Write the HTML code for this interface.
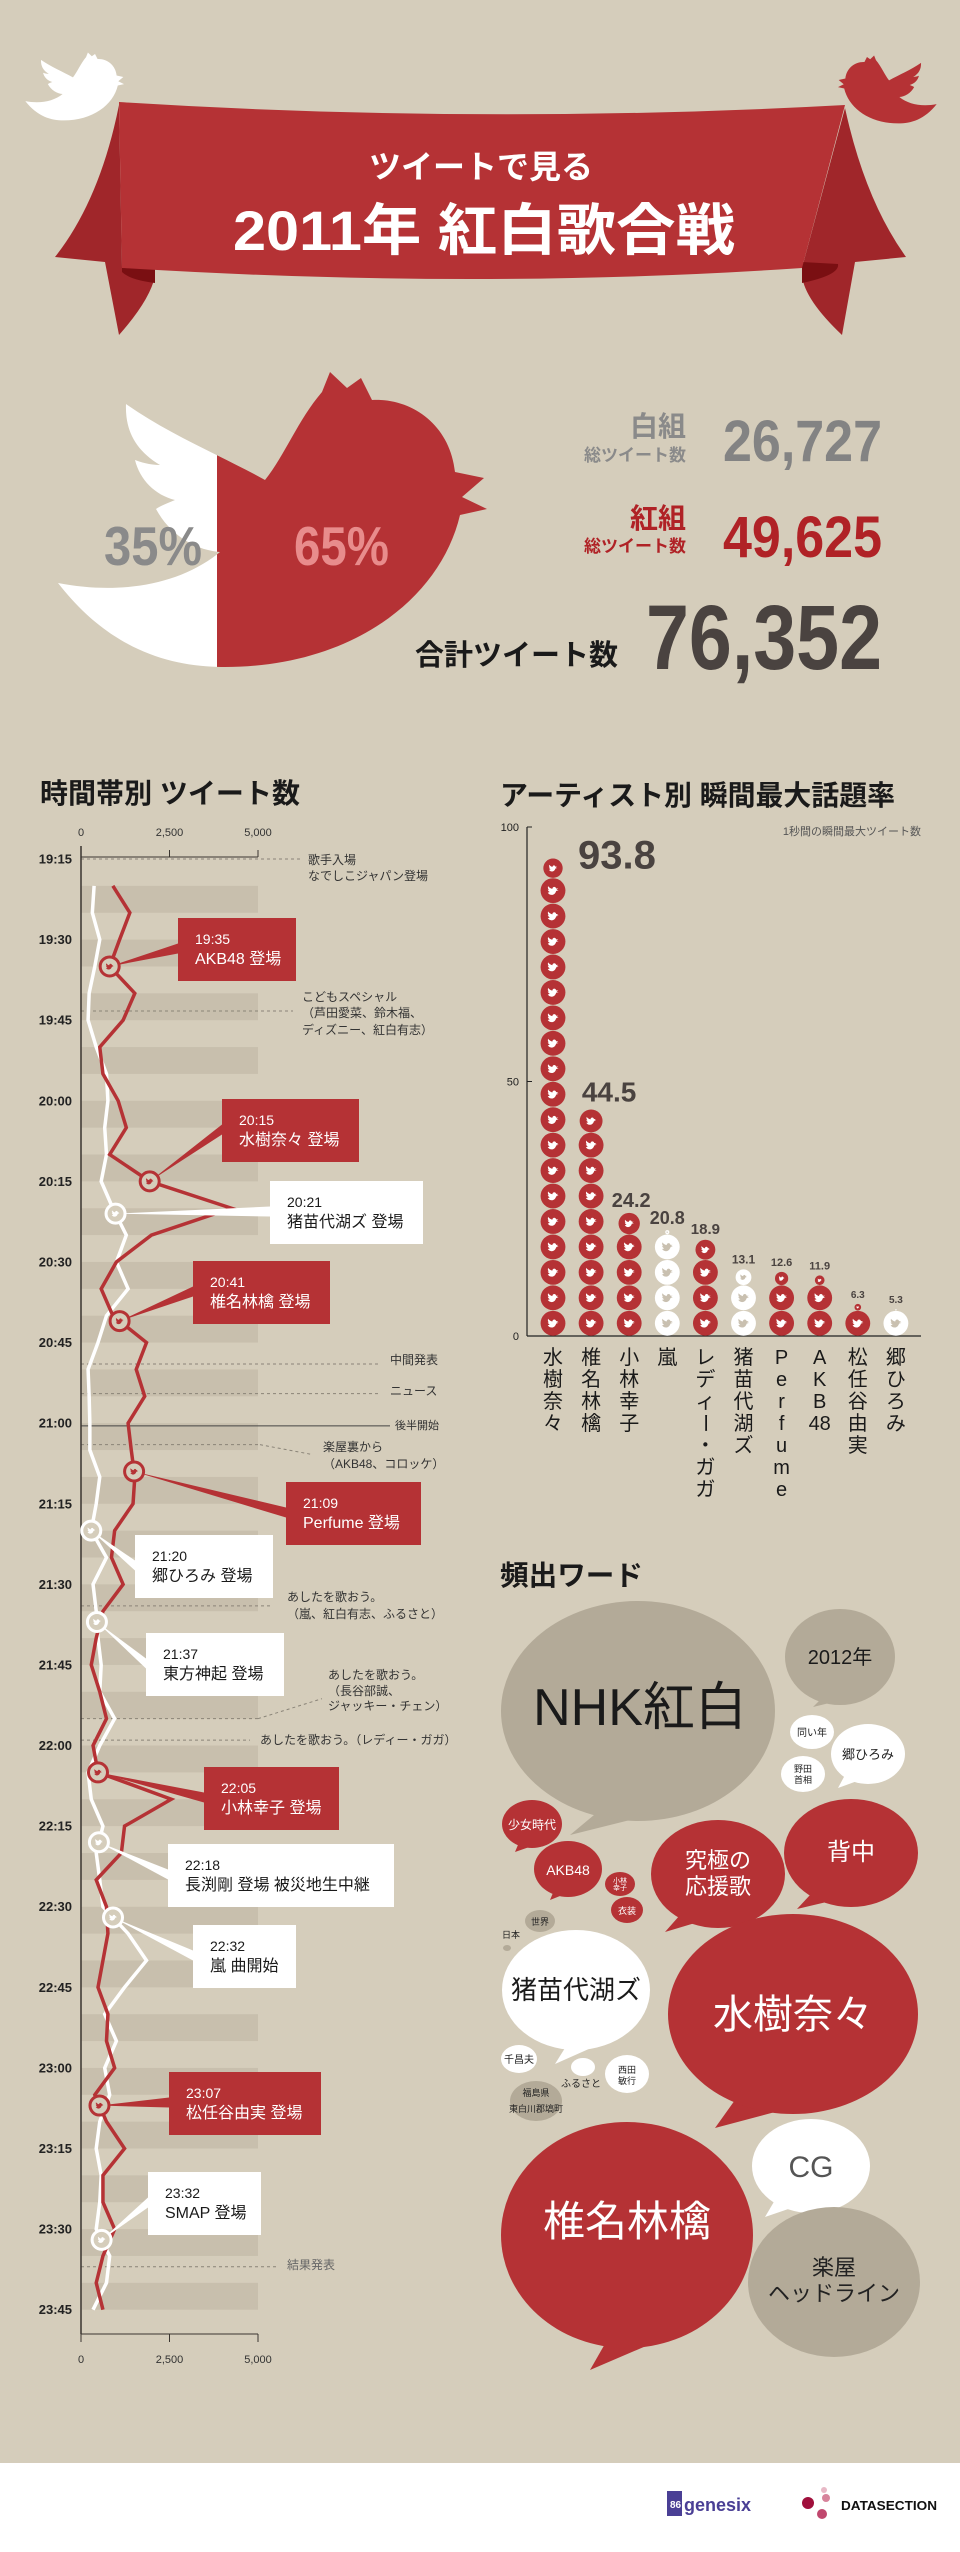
<!DOCTYPE html>
<html><head><meta charset="utf-8"><style>
html,body{margin:0;padding:0;background:#d5cdbb;}
svg{display:block;font-family:"Liberation Sans","Noto Sans CJK JP",sans-serif;}
</style></head><body>
<svg id="root" width="960" height="2552" viewBox="0 0 960 2552" xmlns="http://www.w3.org/2000/svg">
<defs>
  <path id="bird" d="M-0.75,0.3 C-0.45,0.75 0.25,0.75 0.45,0.05 L0.8,-0.05 L0.5,-0.12 L0.75,-0.3 L0.45,-0.3 C0.35,-0.65 -0.05,-0.6 -0.1,-0.25 C-0.35,-0.3 -0.55,-0.45 -0.7,-0.65 C-0.8,-0.35 -0.65,-0.15 -0.55,-0.1 C-0.65,-0.1 -0.7,-0.15 -0.75,-0.15 C-0.7,0.05 -0.55,0.15 -0.45,0.2 C-0.55,0.25 -0.65,0.28 -0.75,0.3 Z"/>
  <path id="bigbird" d="M58,583 C110,650 170,667 225,667 C350,667 440,600 460,515 L487,509 L462,497 L484,478 L455,472 C450,425 412,398 372,400 L361,378 L347,388 L330,372 L322,392 C298,420 285,455 265,480 C220,455 170,435 126,404 C125,430 135,450 160,465 C150,465 140,462 135,460 C140,480 155,495 175,500 C168,503 160,506 156,509 C170,535 195,550 220,552 C180,585 120,595 58,583 Z"/>
  <clipPath id="clipL"><rect x="0" y="300" width="217" height="400"/></clipPath>
  <clipPath id="clipR"><rect x="217" y="300" width="400" height="400"/></clipPath>
</defs>
<rect x="0" y="0" width="960" height="2463" fill="#d5cdbb"/>
<rect x="0" y="2463" width="960" height="89" fill="#ffffff"/>

<!-- header ribbon -->
<g>
  <path d="M119,105 Q100,200 55,257 L105,262 L119,335 Q150,300 155,276 L122,268 Z" fill="#a0262a"/>
  <path d="M845,108 Q865,200 906,257 L855,262 L842,335 Q805,300 802,276 L802,268 Z" fill="#a0262a"/>
  <path d="M122,262 L155,266 L155,283 Q130,280 122,272 Z" fill="#7a0f12"/>
  <path d="M802,262 L838,264 Q840,275 802,283 Z" fill="#7a0f12"/>
  <path d="M119,102 Q480,125 845,105 L802,268 Q480,290 122,268 Z" fill="#b53235"/>
  <text x="481" y="178" text-anchor="middle" font-size="32" font-weight="bold" fill="#ffffff">ツイートで見る</text>
  <text x="484" y="250" text-anchor="middle" font-size="56" font-weight="bold" fill="#ffffff" textLength="502" lengthAdjust="spacingAndGlyphs">2011年 紅白歌合戦</text>
</g>
<g transform="translate(12,-33) scale(0.23)"><use href="#bigbird" fill="#ffffff"/></g>
<g transform="translate(950,-30) scale(-0.23,0.23)"><use href="#bigbird" fill="#b53235"/></g>

<!-- big bird -->
<g>
  <use href="#bigbird" fill="#ffffff" clip-path="url(#clipL)"/>
  <use href="#bigbird" fill="#b53235" clip-path="url(#clipR)"/>
  <text x="104" y="565" font-size="55" font-weight="bold" fill="#8a8a8a" textLength="98" lengthAdjust="spacingAndGlyphs">35%</text>
  <text x="294" y="565" font-size="55" font-weight="bold" fill="#e88c8c" textLength="95" lengthAdjust="spacingAndGlyphs">65%</text>
</g>
<g>
  <text x="686" y="436" text-anchor="end" font-size="28" font-weight="bold" fill="#8a8a8a">白組</text>
  <text x="686" y="461" text-anchor="end" font-size="17" font-weight="bold" fill="#8a8a8a">総ツイート数</text>
  <text x="723" y="461" font-size="58" font-weight="bold" fill="#838383" textLength="159" lengthAdjust="spacingAndGlyphs">26,727</text>
  <text x="686" y="528" text-anchor="end" font-size="28" font-weight="bold" fill="#b02226">紅組</text>
  <text x="686" y="552" text-anchor="end" font-size="17" font-weight="bold" fill="#b02226">総ツイート数</text>
  <text x="723" y="557" font-size="58" font-weight="bold" fill="#b02226" textLength="159" lengthAdjust="spacingAndGlyphs">49,625</text>
  <text x="618" y="665" text-anchor="end" font-size="29" font-weight="bold" fill="#1a1a1a">合計ツイート数</text>
  <text x="646" y="669" font-size="92" font-weight="bold" fill="#4a4340" textLength="236" lengthAdjust="spacingAndGlyphs">76,352</text>
</g>

<text x="40" y="803" font-size="28" font-weight="bold" fill="#1a1a1a" textLength="260" lengthAdjust="spacingAndGlyphs">時間帯別 ツイート数</text>
<text x="500" y="805" font-size="28" font-weight="bold" fill="#1a1a1a" textLength="395" lengthAdjust="spacingAndGlyphs">アーティスト別 瞬間最大話題率</text>
<text x="500" y="1585" font-size="28" font-weight="bold" fill="#1a1a1a" textLength="143" lengthAdjust="spacingAndGlyphs">頻出ワード</text>

<g id="timeline"></g>
<g id="bars"></g>

<!-- word cloud -->
<g text-anchor="middle">
  <g><path d="M600,1810 L570,1835 L650,1815 Z" fill="#b3aa98"/><ellipse cx="638" cy="1711" rx="137" ry="110" fill="#b3aa98"/><text x="640" y="1725" font-size="52" fill="#1a1a1a">NHK紅白</text></g>
  <g><path d="M825,1695 L813,1707 L850,1698 Z" fill="#b3aa98"/><ellipse cx="840" cy="1657" rx="55" ry="48" fill="#b3aa98"/><text x="840" y="1664" font-size="20" fill="#1a1a1a">2012年</text></g>
  <g><ellipse cx="812" cy="1732" rx="22" ry="17" fill="#fff"/><text x="812" y="1736" font-size="10" fill="#222">同い年</text></g>
  <g><path d="M845,1775 L838,1788 L860,1780 Z" fill="#fff"/><ellipse cx="868" cy="1754" rx="37" ry="30" fill="#fff"/><text x="868" y="1759" font-size="13" fill="#222">郷ひろみ</text></g>
  <g><ellipse cx="803" cy="1774" rx="22" ry="18" fill="#fff"/><text x="803" y="1772" font-size="9" fill="#222">野田</text><text x="803" y="1783" font-size="9" fill="#222">首相</text></g>
  <g><path d="M520,1840 L515,1852 L535,1845 Z" fill="#b53235"/><ellipse cx="532" cy="1824" rx="30" ry="24" fill="#b53235"/><text x="532" y="1829" font-size="12" fill="#fff">少女時代</text></g>
  <g><path d="M555,1888 L550,1900 L570,1892 Z" fill="#b53235"/><ellipse cx="568" cy="1869" rx="34" ry="28" fill="#b53235"/><text x="568" y="1875" font-size="14" fill="#fff">AKB48</text></g>
  <g><ellipse cx="620" cy="1884" rx="15" ry="12" fill="#b53235"/><text x="620" y="1883" font-size="7" fill="#fff">小林</text><text x="620" y="1890" font-size="7" fill="#fff">幸子</text></g>
  <g><ellipse cx="627" cy="1910" rx="16" ry="13" fill="#b53235"/><text x="627" y="1914" font-size="9" fill="#fff">衣装</text></g>
  <g><path d="M680,1915 L665,1932 L705,1920 Z" fill="#b53235"/><ellipse cx="718" cy="1874" rx="67" ry="54" fill="#b53235"/><text x="718" y="1868" font-size="22" fill="#fff">究極の</text><text x="718" y="1894" font-size="22" fill="#fff">応援歌</text></g>
  <g><path d="M810,1895 L797,1909 L835,1900 Z" fill="#b53235"/><ellipse cx="851" cy="1853" rx="67" ry="54" fill="#b53235"/><text x="851" y="1860" font-size="24" fill="#fff">背中</text></g>
  <g><ellipse cx="540" cy="1921" rx="15" ry="11" fill="#b3aa98"/><text x="540" y="1925" font-size="9" fill="#222">世界</text></g>
  <text x="511" y="1938" font-size="9" fill="#222">日本</text>
  <ellipse cx="507" cy="1948" rx="4" ry="3" fill="#b3aa98"/>
  <g><path d="M570,2040 L555,2064 L600,2044 Z" fill="#fff"/><ellipse cx="576" cy="1990" rx="74" ry="60" fill="#fff"/><text x="576" y="1999" font-size="26" fill="#1a1a1a">猪苗代湖ズ</text></g>
  <g><path d="M735,2100 L715,2128 L790,2108 Z" fill="#b53235"/><ellipse cx="793" cy="2014" rx="125" ry="100" fill="#b53235"/><text x="793" y="2028" font-size="40" fill="#fff">水樹奈々</text></g>
  <g><ellipse cx="519" cy="2059" rx="18" ry="14" fill="#fff"/><text x="519" y="2063" font-size="10" fill="#222">千昌夫</text></g>
  <g><ellipse cx="583" cy="2067" rx="12" ry="9" fill="#fff"/><text x="581" y="2087" font-size="10" fill="#222">ふるさと</text></g>
  <g><ellipse cx="627" cy="2074" rx="22" ry="19" fill="#fff"/><text x="627" y="2073" font-size="9" fill="#222">西田</text><text x="627" y="2084" font-size="9" fill="#222">敏行</text></g>
  <g><ellipse cx="536" cy="2101" rx="26" ry="20" fill="#b3aa98"/><text x="536" y="2096" font-size="9" fill="#222">福島県</text><text x="536" y="2112" font-size="9" fill="#222">東白川郡塙町</text></g>
  <g><path d="M610,2335 L590,2370 L660,2340 Z" fill="#b53235"/><ellipse cx="627" cy="2235" rx="126" ry="113" fill="#b53235"/><text x="627" y="2236" font-size="42" fill="#fff">椎名林檎</text></g>
  <g><path d="M775,2200 L765,2217 L800,2205 Z" fill="#fff"/><ellipse cx="811" cy="2166" rx="59" ry="47" fill="#fff"/><text x="811" y="2177" font-size="30" fill="#555">CG</text></g>
  <g><ellipse cx="834" cy="2282" rx="86" ry="75" fill="#b3aa98"/><text x="834" y="2275" font-size="22" fill="#222">楽屋</text><text x="834" y="2301" font-size="22" fill="#222">ヘッドライン</text></g>
</g>

<g>
  <rect x="667" y="2491" width="15" height="25" fill="#4a3f95"/>
  <text x="670" y="2508" font-size="10" fill="#fff" font-weight="bold">86</text>
  <text x="684" y="2511" font-size="18" font-weight="bold" fill="#4a3f95">genesix</text>
  <circle cx="808" cy="2503" r="6" fill="#a0103c"/><circle cx="826" cy="2498" r="4" fill="#d7839b"/><circle cx="822" cy="2514" r="5" fill="#c0486e"/><circle cx="824" cy="2490" r="3" fill="#e8b8c6"/>
  <text x="841" y="2510" font-size="13" font-weight="bold" fill="#111" textLength="96" lengthAdjust="spacingAndGlyphs">DATASECTION</text>
</g>
</svg>
<script>
const NS='http://www.w3.org/2000/svg';
// ---- timeline data ----
const times=['19:20','19:25','19:30','19:35','19:40','19:45','19:50','19:55','20:00','20:05','20:10','20:15','20:20','20:25','20:30','20:35','20:40','20:45','20:50','20:55','21:00','21:05','21:10','21:15','21:20','21:25','21:30','21:35','21:40','21:45','21:50','21:55','22:00','22:05','22:10','22:15','22:20','22:25','22:30','22:35','22:40','22:45','22:50','22:55','23:00','23:05','23:10','23:15','23:20','23:25','23:30','23:35','23:40','23:45'];
const redTweets=[900,1380,1090,810,1520,1190,530,620,1050,1280,810,1940,4250,1990,1000,570,900,1850,1560,1800,1330,1420,1520,1470,950,860,1190,620,430,290,530,720,340,480,2550,1230,1140,430,720,760,620,480,760,720,950,390,720,1230,620,620,950,620,430,620];
const whiteTweets=[370,320,530,390,230,200,430,720,760,670,720,570,900,1280,1000,1330,720,480,200,230,250,250,530,430,290,720,340,430,480,570,530,950,530,200,290,620,430,530,620,1330,1850,1230,670,1000,670,810,530,430,570,530,430,810,720,340];
const hourLabels=['19:15','19:30','19:45','20:00','20:15','20:30','20:45','21:00','21:15','21:30','21:45','22:00','22:15','22:30','22:45','23:00','23:15','23:30','23:45'];
const xTicks=[0,2500,5000];
const xTickLabels=['0','2,500','5,000'];
const eventTimes=['19:35','20:15','20:21','20:41','21:09','21:20','21:37','22:05','22:18','22:32','23:07','23:32'];
const eventTitles=['AKB48 登場','水樹奈々 登場','猪苗代湖ズ 登場','椎名林檎 登場','Perfume 登場','郷ひろみ 登場','東方神起 登場','小林幸子 登場','長渕剛 登場 被災地生中継','嵐 曲開始','松任谷由実 登場','SMAP 登場'];
const eventTeams=['red','red','white','red','red','white','white','red','white','white','red','white'];

// ---- bar data ----
const artists=['水樹奈々','椎名林檎','小林幸子','嵐','レディー・ガガ','猪苗代湖ズ','Perfume','AKB48','松任谷由実','郷ひろみ'];
const peakValues=[93.8,44.5,24.2,20.8,18.9,13.1,12.6,11.9,6.3,5.3];
const artistTeams=['red','red','red','white','red','white','red','red','red','white'];
const yTicks=[0,50,100];

function toMin(s){const p=s.split(':');return (+p[0])*60+(+p[1])-(19*60+15);}
const X0=81,X1=258,Y0=859,PX=5.373;
const xs=v=>X0+v/5000*(X1-X0);
const ys=m=>Y0+m*PX;
function mk(tag,a,parent){const e=document.createElementNS(NS,tag);for(const k in a)e.setAttribute(k,a[k]);parent.appendChild(e);return e;}
function txt(tag,a,parent,s){const e=mk(tag,a,parent);e.textContent=s;return e;}

const tl=document.getElementById('timeline');
// bands every 10 min
for(let m=5;m<270;m+=10){
  const b=mk('rect',{x:X0,y:ys(m),width:X1-X0,height:5*PX,fill:'#c8bfad'},tl);
  
  
}
// annotations
const notes=[[0,300,['歌手入場','なでしこジャパン登場'],308,[864,880],false],
[28.3,293,['こどもスペシャル','（芦田愛菜、鈴木福、','ディズニー、紅白有志）'],302,[1001,1017,1034],false],
[94,380,['中間発表'],390,[1364],false],[99.5,380,['ニュース'],390,[1395],false],
[105.5,390,['後半開始'],395,[1429],true],
[109,260,['楽屋裏から','（AKB48、コロッケ）'],323,[1451,1468],false],
[139,273,['あしたを歌おう。','（嵐、紅白有志、ふるさと）'],287,[1601,1618],false],
[160,258,['あしたを歌おう。','（長谷部誠、','ジャッキー・チェン）'],328,[1679,1695,1710],false],
[164,250,['あしたを歌おう。（レディー・ガガ）'],260,[1744],false],
[262,278,['結果発表'],287,[2269],false]];
notes.forEach((n,i)=>{
  const y=ys(n[0]);
  const l=mk('line',{x1:X0,y1:y,x2:n[1],y2:y,stroke:n[5]?'#444':'#8a8478','stroke-width':1,'stroke-dasharray':n[5]?'':'3,3'},tl);
  
  
  if(i==5)mk('line',{x1:260,y1:y,x2:313,y2:y+10,stroke:'#8a8478','stroke-dasharray':'3,3'},tl);
  if(i==7)mk('line',{x1:258,y1:y,x2:322,y2:y-20,stroke:'#8a8478','stroke-dasharray':'3,3'},tl);
  n[2].forEach((s,j)=>{
    const t=txt('text',{x:n[3],y:n[4][j],'font-size':n[5]?11:12,fill:i==9?'#666':'#333'},tl,s);
    
    
  });
});
// axes
const ax=mk('line',{x1:X0,y1:846,x2:X0,y2:2334,stroke:'#3a3530','stroke-width':1.5},tl);


mk('line',{x1:X0,y1:857,x2:X1,y2:857,stroke:'#3a3530','stroke-width':1},tl);
const bx=mk('line',{x1:X0,y1:2334,x2:X1,y2:2334,stroke:'#3a3530','stroke-width':1},tl);


xTicks.forEach((v,i)=>{
  mk('line',{x1:xs(v),y1:850,x2:xs(v),y2:857,stroke:'#3a3530'},tl);
  mk('line',{x1:xs(v),y1:2334,x2:xs(v),y2:2342,stroke:'#3a3530'},tl);
  const a=txt('text',{x:xs(v),y:836,'font-size':11,'text-anchor':'middle',fill:'#333'},tl,xTickLabels[i]);
  
  
  const b=txt('text',{x:xs(v),y:2363,'font-size':11,'text-anchor':'middle',fill:'#333'},tl,xTickLabels[i]);
  
  
});
hourLabels.forEach(s=>{
  const t=txt('text',{x:72,y:ys(toMin(s))+4.5,'font-size':13,'font-weight':'bold','text-anchor':'end',fill:'#222'},tl,s);
  
  
});
// lines
function pts(arr){return arr.map((v,i)=>xs(v)+','+ys(toMin(times[i]))).join(' ');}
const wl=mk('polyline',{points:pts(whiteTweets),fill:'none',stroke:'#ffffff','stroke-width':3.5,'stroke-linejoin':'miter'},tl);


const rl=mk('polyline',{points:pts(redTweets),fill:'none',stroke:'#b53235','stroke-width':3.5,'stroke-linejoin':'miter'},tl);


function valAt(arr,m){const f=(m-5)/5;const i=Math.max(0,Math.min(arr.length-2,Math.floor(f)));const r=f-i;return arr[i]*(1-r)+arr[i+1]*r;}
const boxX=[178,222,270,193,286,135,146,204,168,193,169,148];
const boxY=[918,1099,1181,1261,1482,1535,1633,1767,1844,1925,2072,2172];
const boxW=[118,137,153,137,135,138,138,135,226,103,152,113];
eventTimes.forEach((s,i)=>{
  const m=toMin(s);const red=eventTeams[i]=='red';
  const col=red?'#b53235':'#ffffff';
  const arr=red?redTweets:whiteTweets;
  const mx=xs(valAt(arr,m)),my=ys(m);
  const bw=boxW[i],by=boxY[i],bxx=boxX[i],bh=63;
  const w=mk('polygon',{points:mx+','+my+' '+bxx+','+(by+bh*0.5-6)+' '+bxx+','+(by+bh*0.5+4),fill:col},tl);
  
  
  const c=mk('circle',{cx:mx,cy:my,r:9.5,fill:'#d5cdbb',stroke:col,'stroke-width':3},tl);
  
  
  mk('use',{href:'#bird',transform:'translate('+mx+','+my+') scale(5)',fill:red?'#b53235':'#ffffff'},tl);
  const r=mk('rect',{x:bxx,y:by,width:bw,height:bh,fill:col},tl);
  
  
  const t1=txt('text',{x:bxx+17,y:by+26,'font-size':14,fill:red?'#fff':'#1a1a1a'},tl,s);
  
  
  const t2=txt('text',{x:bxx+17,y:by+46,'font-size':16,fill:red?'#fff':'#1a1a1a'},tl,eventTitles[i]);
  
  
});

// ---- bar chart ----
const bg=document.getElementById('bars');
const BX0=527,BX1=921,BY0=1336,BY100=827;
const by=v=>BY0-(BY0-BY100)*v/100;
const colX=i=>553+i*38.1;
const ya=mk('line',{x1:BX0,y1:BY100,x2:BX0,y2:BY0,stroke:'#222','stroke-width':1.2},bg);


const xa=mk('line',{x1:BX0,y1:BY0,x2:BX1,y2:BY0,stroke:'#222','stroke-width':1.2},bg);


yTicks.forEach(v=>{
  mk('line',{x1:BX0,y1:by(v),x2:BX0+5,y2:by(v),stroke:'#222'},bg);
  const t=txt('text',{x:519,y:by(v)+4,'font-size':11,'text-anchor':'end',fill:'#222'},bg,String(v));
  
  
});
const nt=txt('text',{x:921,y:835,'font-size':11,'text-anchor':'end',fill:'#555'},bg,'1秒間の瞬間最大ツイート数');


const U=(BY0-BY100)*5/100;
const labelSizes=[40,28,20,18,15,12,11,11,10,10];
peakValues.forEach((v,i)=>{
  const cx=colX(i);const red=artistTeams[i]=='red';
  const fill=red?'#b53235':'#ffffff';const bird=red?'#ffffff':'#c9c0b0';
  const n=Math.floor(v/5);const f=v/5-n;
  for(let k=0;k<n;k++){
    const cy=by(k*5)-U/2;
    const c=mk('circle',{cx:cx,cy:cy,r:U/2-0.3,fill:fill},bg);
    
    
    mk('use',{href:'#bird',transform:'translate('+cx+','+cy+') scale(7)',fill:bird},bg);
  }
  if(f>0.02){
    const d=U*f;const cy=by(n*5)-d/2;
    const c=mk('circle',{cx:cx,cy:cy,r:d/2,fill:fill},bg);
    
    
    mk('use',{href:'#bird',transform:'translate('+cx+','+cy+') scale('+(7*f)+')',fill:bird},bg);
  }
  let lx=cx,ly=by(v)-6,anc='middle';
  if(i==0){lx=578;ly=by(v)+10;anc='start';}
  if(i==1){lx=cx+18;ly=by(v)-8;}
  if(i==2){lx=cx+2;ly=by(v)-6;}
  const t=txt('text',{x:lx,y:ly,'font-size':labelSizes[i],'font-weight':'bold','text-anchor':anc,fill:'#4a4340'},bg,String(v));
  
  
  // vertical category label
  const tokens=artists[i]=='AKB48'?['A','K','B','48']:Array.from(artists[i]);
  const g=mk('g',{},bg);
  
  
  tokens.forEach((ch,j)=>{
    const y=1364+j*22;
    const t2=txt('text',{x:cx,y:y,'font-size':20,'text-anchor':'middle',fill:'#1a1a1a'},g,ch);
    if(ch=='ー')t2.setAttribute('transform','rotate(90 '+cx+' '+(y-7)+')');
  });
});
</script>
</body></html>
